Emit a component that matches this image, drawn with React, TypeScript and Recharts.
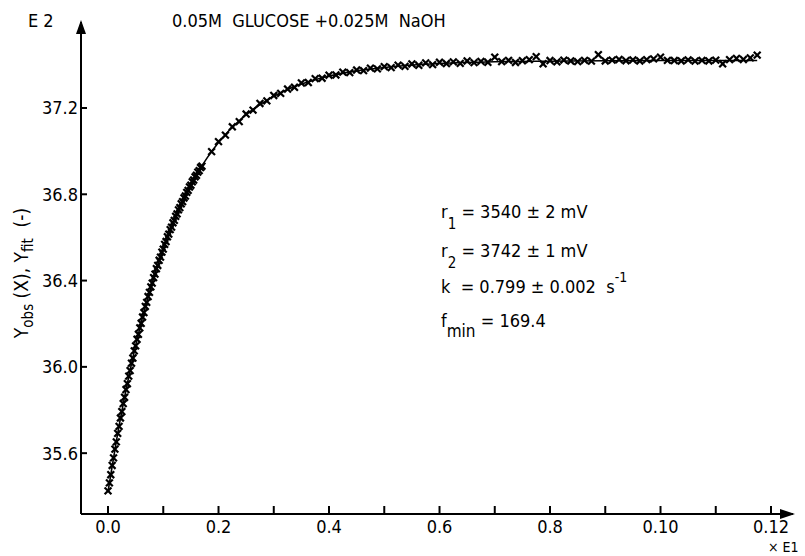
import { ComposedChart, Scatter, Line, XAxis, YAxis } from 'recharts';

// observed points (x in units of E1, y in units of E2)
const obsX = [
  0, 0.0025, 0.005, 0.0075, 0.01, 0.0125, 0.015, 0.0175, 0.02, 0.0225,
  0.025, 0.0275, 0.03, 0.0325, 0.035, 0.0375, 0.04, 0.0425, 0.045, 0.0475,
  0.05, 0.0525, 0.055, 0.0575, 0.06, 0.0625, 0.065, 0.0675, 0.07, 0.0725,
  0.075, 0.0775, 0.08, 0.0825, 0.085, 0.0875, 0.09, 0.0925, 0.095, 0.0975,
  0.1, 0.1025, 0.105, 0.1075, 0.11, 0.1125, 0.115, 0.1175, 0.12, 0.1225,
  0.125, 0.1275, 0.13, 0.1325, 0.135, 0.1375, 0.14, 0.1425, 0.145, 0.1475,
  0.15, 0.1525, 0.155, 0.1575, 0.16, 0.1625, 0.165, 0.1675, 0.17,
  0.1875, 0.2, 0.2125, 0.225, 0.2375, 0.25, 0.2625, 0.275, 0.2875, 0.3,
  0.3125, 0.325, 0.3375, 0.35, 0.3625, 0.375, 0.3875, 0.4, 0.4125, 0.425,
  0.4375, 0.45, 0.4625, 0.475, 0.4875, 0.5, 0.5125, 0.525, 0.5375, 0.55,
  0.5625, 0.575, 0.5875, 0.6, 0.6125, 0.625, 0.6375, 0.65, 0.6625, 0.675,
  0.6875, 0.7, 0.7125, 0.725, 0.7375, 0.75, 0.7625, 0.775, 0.7875, 0.8,
  0.8125, 0.825, 0.8375, 0.85, 0.8625, 0.875, 0.8875, 0.9, 0.9125, 0.925,
  0.9375, 0.95, 0.9625, 0.975, 0.9875, 1.0, 1.0125, 1.025, 1.0375, 1.05,
  1.0625, 1.075, 1.0875, 1.1, 1.1125, 1.125, 1.1375, 1.15, 1.1625, 1.175,
];
const obsY = [
  35.425, 35.462, 35.5, 35.543, 35.578, 35.619, 35.652, 35.692, 35.724, 35.763,
  35.793, 35.83, 35.859, 35.895, 35.922, 35.957, 35.983, 36.017, 36.041, 36.074,
  36.097, 36.128, 36.151, 36.181, 36.202, 36.231, 36.252, 36.28, 36.299, 36.326,
  36.345, 36.371, 36.388, 36.414, 36.43, 36.455, 36.47, 36.494, 36.509, 36.532,
  36.546, 36.568, 36.581, 36.603, 36.615, 36.636, 36.648, 36.668, 36.679, 36.698,
  36.709, 36.728, 36.738, 36.756, 36.766, 36.783, 36.792, 36.809, 36.818, 36.834,
  36.842, 36.858, 36.866, 36.881, 36.888, 36.903, 36.91, 36.924, 36.93,
  36.998, 37.044, 37.074, 37.113, 37.137, 37.172, 37.19, 37.221, 37.233, 37.258,
  37.268, 37.288, 37.296, 37.316, 37.318, 37.336, 37.338, 37.352, 37.353, 37.366,
  37.364, 37.376, 37.373, 37.385, 37.381, 37.392, 37.387, 37.399, 37.393, 37.404,
  37.398, 37.409, 37.401, 37.412, 37.406, 37.414, 37.407, 37.418, 37.41, 37.416,
  37.412, 37.436, 37.415, 37.421, 37.411, 37.419, 37.424, 37.438, 37.405, 37.42,
  37.414, 37.422, 37.418, 37.415, 37.421, 37.417, 37.447, 37.418, 37.422, 37.425,
  37.419, 37.423, 37.418, 37.424, 37.428, 37.436, 37.421, 37.42, 37.418, 37.423,
  37.417, 37.421, 37.418, 37.422, 37.405, 37.424, 37.43, 37.425, 37.432, 37.445,
];

// fitted curve
const fitX = [0, 0.02, 0.04, 0.06, 0.08, 0.1, 0.12, 0.14, 0.16, 0.18, 0.2, 0.24, 0.28, 0.32, 0.36, 0.4, 0.45, 0.5, 0.55, 0.6, 0.7, 0.8, 0.9, 1.0, 1.1, 1.175];
const fitY = [35.42, 35.726, 35.985, 36.205, 36.39, 36.548, 36.681, 36.794, 36.89, 36.971, 37.04, 37.147, 37.224, 37.28, 37.319, 37.348, 37.372, 37.388, 37.399, 37.406, 37.414, 37.417, 37.419, 37.42, 37.42, 37.42];

const xTicks = [0, 0.1, 0.2, 0.3, 0.4, 0.5, 0.6, 0.7, 0.8, 0.9, 1.0, 1.1, 1.2];
const xTickLabels = ['0.0', '', '0.2', '', '0.4', '', '0.6', '', '0.8', '', '0.10', '', '0.12'];
const yTicks = [35.6, 36.0, 36.4, 36.8, 37.2];
const yTickLabels = ['35.6', '36.0', '36.4', '36.8', '37.2'];

const observed = obsX.map((x, i) => ({ x, y: obsY[i] }));
const fitted = fitX.map((x, i) => ({ x, y: fitY[i] }));

const FONT = '"DejaVu Sans Condensed", "DejaVu Sans", sans-serif';
const tickStyle = { fill: '#000', fontSize: 18, fontFamily: FONT };

function Cross(props: any) {
  const { cx, cy } = props;
  const s = 3.4;
  return (
    <g stroke="#000" strokeWidth={2.2}>
      <line x1={cx - s} y1={cy - s} x2={cx + s} y2={cy + s} />
      <line x1={cx - s} y1={cy + s} x2={cx + s} y2={cy - s} />
    </g>
  );
}

export default function App() {
  return (
    <div style={{ position: 'relative', width: 805, height: 556, background: '#fff' }}>
      <style>{'body{margin:0}'}</style>
      <ComposedChart width={805} height={556} margin={{ top: 22, right: 12, bottom: 0, left: 21 }}>
        <XAxis
          type="number"
          dataKey="x"
          domain={[-0.0489, 1.2398]}
          allowDataOverflow
          ticks={xTicks}
          interval={0}
          tickFormatter={(v: number) => xTickLabels[xTicks.indexOf(v)] ?? ''}
          height={42}
          tickSize={-8}
          tickMargin={14}
          axisLine={{ stroke: '#000', strokeWidth: 2 }}
          tickLine={{ stroke: '#000', strokeWidth: 2 }}
          tick={tickStyle}
        />
        <YAxis
          type="number"
          dataKey="y"
          domain={[35.318, 37.5986]}
          allowDataOverflow
          ticks={yTicks}
          interval={0}
          tickFormatter={(v: number) => yTickLabels[yTicks.indexOf(v)] ?? ''}
          width={60}
          tickSize={-6}
          tickMargin={9}
          axisLine={{ stroke: '#000', strokeWidth: 2 }}
          tickLine={{ stroke: '#000', strokeWidth: 2 }}
          tick={tickStyle}
        />
        <Line data={fitted} dataKey="y" type="monotone" stroke="#000" strokeWidth={1.6} dot={false} isAnimationActive={false} />
        <Scatter data={observed} dataKey="y" shape={Cross} isAnimationActive={false} />
      </ComposedChart>
      <svg width={805} height={556} style={{ position: 'absolute', left: 0, top: 0, pointerEvents: 'none' }} fontFamily={FONT} fill="#000">
        <polygon points="81,20 76,34 86,34" />
        <polygon points="795,514 780,509 780,519" />
        <text x={28} y={27} fontSize={18}>E 2</text>
        <text x={172} y={27} fontSize={18} xmlSpace="preserve">0.05M  GLUCOSE +0.025M  NaOH</text>
        <text x={768} y={552} fontSize={14}>× E1</text>
        <text x={28} y={273} fontSize={19} textAnchor="middle" transform="rotate(-90 28 273)" xmlSpace="preserve">
          <tspan>Y</tspan><tspan fontSize={15} dy={5}>obs</tspan><tspan dy={-5}> (X), Y</tspan><tspan fontSize={15} dy={5}>fit</tspan><tspan dy={-5}>  (-)</tspan>
        </text>
        <g fontSize={18}>
          <text x={441} y={218}>r<tspan fontSize={15} dy={11}>1</tspan><tspan dy={-11}> = 3540 ± 2 mV</tspan></text>
          <text x={441} y={257}>r<tspan fontSize={15} dy={11}>2</tspan><tspan dy={-11}> = 3742 ± 1 mV</tspan></text>
          <text x={441} y={293} xmlSpace="preserve">k  = 0.799 ± 0.002  s<tspan fontSize={14} dy={-11}>-1</tspan></text>
          <text x={441} y={327}>f<tspan fontSize={17} dy={10}>min</tspan><tspan dy={-10}> = 169.4</tspan></text>
        </g>
      </svg>
    </div>
  );
}
